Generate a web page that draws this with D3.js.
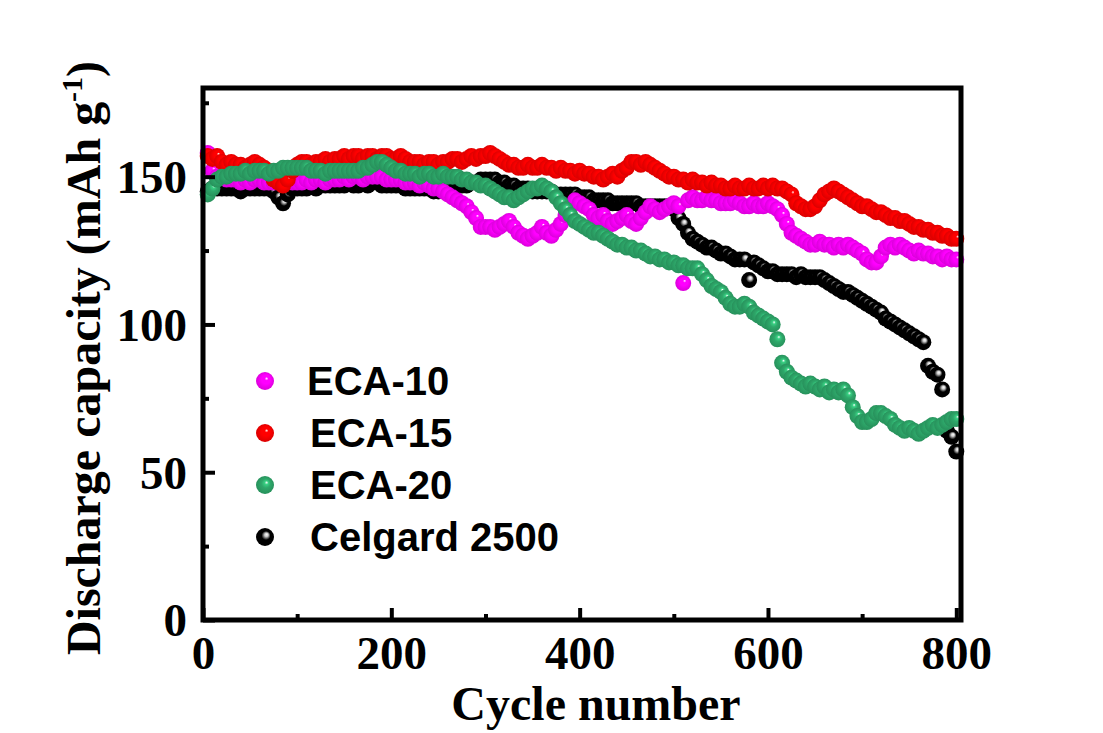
<!DOCTYPE html>
<html>
<head>
<meta charset="utf-8">
<script src="https://cdn.jsdelivr.net/npm/d3@7"></script>
<style>
  body { margin: 0; background: #fff; }
  .tick text { font-family: "Liberation Serif", "Times New Roman", serif; font-weight: bold; }
</style>
</head>
<body>
<svg id="chart" width="1103" height="733"></svg>
<script>
const width = 1103;
const height = 733;

// discharge capacity, one value per 5 cycles (cycle 5 ... 800)
const cycleStep = 5;
const eca10 = [
  158, 152, 150, 150, 149, 149, 149, 148, 149, 148, 149, 149, 148, 148, 148, 148, 148, 149, 148, 148,
  148, 149, 148, 149, 149, 148, 149, 149, 149, 150, 149, 150, 150, 149, 150, 150, 150, 150, 149, 149,
  149, 149, 148, 148, 148, 147, 148, 147, 146, 146, 145, 144, 143, 142, 141, 140, 138, 136, 133, 133,
  133, 132, 133, 134, 135, 133, 131, 130, 129, 130, 131, 133, 131, 130, 132, 134, 137, 140, 142, 141,
  140, 139, 137, 136, 137, 135, 134, 135, 136, 137, 135, 134, 136, 138, 140, 139, 138, 139, 140, 141,
  140, 114, 142, 143, 142, 142, 143, 142, 142, 141, 141, 141, 142, 141, 140, 140, 141, 140, 140, 141,
  140, 139, 137, 134, 131, 130, 129, 128, 127, 127, 128, 127, 127, 126, 127, 126, 127, 126, 125, 124,
  122, 121, 121, 123, 126, 127, 126, 127, 126, 125, 124, 125, 124, 124, 123, 123, 122, 123, 122, 122
];
const eca15 = [
  157, 156, 157, 155, 154, 155, 154, 154, 153, 154, 155, 154, 153, 152, 149, 148, 147, 149, 152, 154,
  155, 155, 154, 155, 155, 156, 155, 156, 156, 157, 156, 157, 157, 156, 157, 157, 156, 157, 157, 156,
  156, 157, 156, 155, 155, 155, 154, 155, 155, 154, 155, 155, 156, 156, 155, 156, 157, 156, 157, 157,
  158, 157, 156, 155, 154, 154, 153, 153, 154, 153, 153, 154, 153, 153, 152, 153, 152, 152, 151, 152,
  151, 151, 150, 150, 149, 150, 151, 150, 152, 153, 155, 155, 154, 155, 154, 153, 152, 151, 150, 150,
  149, 149, 148, 149, 148, 148, 147, 148, 147, 147, 146, 146, 147, 146, 146, 147, 146, 146, 147, 146,
  147, 146, 146, 145, 144, 141, 140, 139, 139, 140, 142, 144, 145, 146, 145, 144, 143, 142, 141, 140,
  140, 139, 138, 138, 137, 136, 136, 135, 135, 134, 133, 133, 132, 132, 131, 131, 130, 130, 129, 129
];
const eca20 = [
  144, 146, 149, 150, 150, 151, 151, 151, 152, 151, 152, 152, 152, 151, 152, 152, 153, 153, 153, 153,
  153, 153, 152, 152, 152, 151, 152, 152, 152, 152, 152, 152, 152, 153, 153, 154, 155, 155, 154, 153,
  152, 152, 151, 151, 151, 150, 151, 151, 150, 150, 151, 150, 150, 150, 149, 149, 148, 148, 147, 147,
  146, 145, 144, 143, 143, 142, 143, 144, 145, 146, 146, 147, 146, 145, 143, 141, 139, 137, 135, 134,
  133, 132, 131, 131, 130, 129, 128, 127, 127, 126, 126, 125, 125, 124, 123, 123, 122, 122, 121, 121,
  120, 120, 119, 119, 119, 117, 115, 113, 112, 111, 109, 107, 106, 106, 107, 106, 104, 103, 102, 101,
  100, 95, 87, 84, 82, 81, 80, 79, 80, 79, 78, 79, 77, 78, 77, 78, 76, 72, 69, 67,
  67, 68, 70, 70, 69, 68, 66, 65, 64, 65, 64, 63, 64, 65, 66, 65, 66, 67, 68, 68
];
const celgard = [
  145, 146, 146, 146, 146, 146, 146, 145, 146, 146, 146, 146, 146, 146, 145, 143, 141, 144, 146, 146,
  146, 146, 147, 146, 147, 147, 147, 147, 147, 147, 148, 147, 147, 148, 147, 148, 148, 147, 147, 147,
  147, 147, 146, 146, 146, 146, 146, 146, 145, 145, 146, 146, 146, 147, 147, 147, 148, 148, 149, 149,
  149, 149, 148, 148, 147, 147, 146, 146, 146, 145, 145, 145, 145, 145, 144, 144, 144, 144, 144, 143,
  143, 143, 142, 142, 142, 142, 141, 141, 141, 141, 141, 141, 140, 140, 140, 140, 140, 140, 140, 139,
  136, 134, 131, 129, 128, 127, 126, 126, 125, 124, 124, 123, 122, 122, 122, 115, 121, 120, 119, 118,
  118, 117, 117, 117, 117, 116, 117, 116, 116, 116, 116, 115, 114, 113, 112, 111, 111, 110, 109, 108,
  107, 106, 105, 104, 102, 101, 100, 99, 98, 97, 96, 95, 94, 86, 84, 83, 78, 64, 62, 57
];

const seriesNames = ['ECA-10', 'ECA-15', 'ECA-20', 'Celgard 2500'];
const seriesValues = [eca10, eca15, eca20, celgard];
const seriesColors = ['#ff00ff', '#ff0000', '#2ea86a', '#000000'];
const drawOrder = [3, 0, 1, 2];

const xTicks = [0, 200, 400, 600, 800];
const yTicks = [0, 50, 100, 150];

const margin = { left: 203, right: 142, top: 88, bottom: 113 };
const svg = d3.select('#chart');

const x = d3.scaleLinear().domain([0, 805]).range([margin.left, width - margin.right]);
const y = d3.scaleLinear().domain([0, 180]).range([height - margin.bottom, margin.top]);

// sphere-like gradients
const defs = svg.append('defs');
seriesColors.forEach((c, i) => {
  const g = defs.append('radialGradient')
    .attr('id', 'ball' + i)
    .attr('cx', '50%').attr('cy', '50%').attr('r', '55%')
    .attr('fx', '60%').attr('fy', '35%');
  const base = d3.color(c);
  const light = i === 3 ? d3.rgb(120, 120, 120) : base.brighter(0.6);
  const dark = i === 3 ? d3.rgb(0, 0, 0) : base.darker(0.5);
  g.append('stop').attr('offset', '0%').attr('stop-color', '#ffffff');
  g.append('stop').attr('offset', '18%').attr('stop-color', i === 3 ? '#cccccc' : light.formatHex());
  g.append('stop').attr('offset', '45%').attr('stop-color', base.formatHex());
  g.append('stop').attr('offset', '100%').attr('stop-color', dark.formatHex());
});

// points
drawOrder.forEach((si) => {
  const vals = seriesValues[si];
  svg.append('g')
    .selectAll('circle')
    .data(vals)
    .enter()
    .append('circle')
    .attr('cx', (d, i) => x((i + 1) * cycleStep))
    .attr('cy', (d) => y(d))
    .attr('r', 8)
    .attr('fill', `url(#ball${si})`);
});

// frame
svg.append('rect')
  .attr('x', margin.left)
  .attr('y', margin.top)
  .attr('width', width - margin.left - margin.right)
  .attr('height', height - margin.top - margin.bottom)
  .attr('fill', 'none')
  .attr('stroke', '#000')
  .attr('stroke-width', 5);

// axes with inward ticks
const xAxis = svg.append('g')
  .attr('transform', `translate(0,${height - margin.bottom})`)
  .call(d3.axisBottom(x).tickValues(xTicks).tickSizeInner(-12).tickSizeOuter(0).tickPadding(16).tickFormat(d3.format('d')));
const xMinor = svg.append('g')
  .attr('transform', `translate(0,${height - margin.bottom})`)
  .call(d3.axisBottom(x).tickValues([100, 300, 500, 700]).tickSizeInner(-6).tickSizeOuter(0).tickFormat(''));
const yAxis = svg.append('g')
  .attr('transform', `translate(${margin.left},0)`)
  .call(d3.axisLeft(y).tickValues(yTicks).tickSizeInner(-12).tickSizeOuter(0).tickPadding(16).tickFormat(d3.format('d')));
const yMinor = svg.append('g')
  .attr('transform', `translate(${margin.left},0)`)
  .call(d3.axisLeft(y).tickValues([25, 75, 125, 175]).tickSizeInner(-6).tickSizeOuter(0).tickFormat(''));

[xAxis, xMinor, yAxis, yMinor].forEach((a) => {
  a.select('.domain').remove();
  a.selectAll('.tick line').attr('stroke', '#000').attr('stroke-width', 4);
});
[xAxis, yAxis].forEach((a) => {
  a.selectAll('.tick text').attr('font-size', 47).attr('fill', '#000');
});
yAxis.selectAll('.tick text').attr('dy', '0.34em');

// axis titles
svg.append('text')
  .attr('x', 596)
  .attr('y', 720)
  .attr('text-anchor', 'middle')
  .attr('font-family', '"Liberation Serif", "Times New Roman", serif')
  .attr('font-weight', 'bold')
  .attr('font-size', 48)
  .text('Cycle number');

const yTitle = svg.append('text')
  .attr('transform', `translate(100,${(margin.top + height - margin.bottom) / 2 + 4}) rotate(-90)`)
  .attr('text-anchor', 'middle')
  .attr('font-family', '"Liberation Serif", "Times New Roman", serif')
  .attr('font-weight', 'bold')
  .attr('font-size', 48);
yTitle.append('tspan').text('Discharge capacity (mAh g');
yTitle.append('tspan').attr('font-size', 30).attr('baseline-shift', '60%').text('-1');
yTitle.append('tspan').text(')');

// legend
const legend = svg.append('g');
seriesNames.forEach((name, i) => {
  const ly = 381 + i * 52;
  legend.append('circle')
    .attr('cx', 265).attr('cy', ly).attr('r', 9)
    .attr('fill', `url(#ball${i})`);
  legend.append('text')
    .attr('x', i === 0 ? 307 : 310)
    .attr('y', ly + 14)
    .attr('font-family', '"Liberation Sans", Arial, sans-serif')
    .attr('font-weight', 'bold')
    .attr('font-size', 40)
    .text(name);
});
</script>
</body>
</html>
